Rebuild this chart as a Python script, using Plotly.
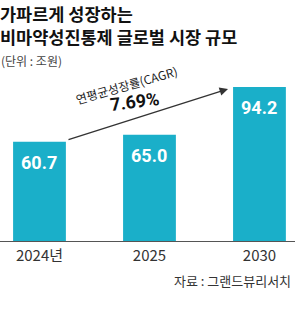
import plotly.graph_objects as go

categories = ["2024년", "2025", "2030"]
values = [60.7, 65.0, 94.2]
value_labels = ["60.7", "65.0", "94.2"]
title_lines = ["가파르게 성장하는", "비마약성진통제 글로벌 시장 규모"]
unit_text = "(단위 : 조원)"
cagr_label = "연평균성장률(CAGR)"
cagr_value = "7.69%"
source_text = "자료 : 그랜드뷰리서치"

BAR = "#1AAFC9"
FONT = "Noto Sans CJK KR"

fig = go.Figure()
fig.add_trace(go.Bar(
    x=categories, y=values, width=0.48,
    marker=dict(color=BAR, line=dict(width=0)),
    hoverinfo="skip",
))

anns = []
for i, (v, t) in enumerate(zip(values, value_labels)):
    anns.append(dict(x=i, y=v, xref="x", yref="y", text=f"<b>{t}</b>",
                     showarrow=False, yanchor="top", yshift=-8,
                     font=dict(family="Roboto", size=18, color="white")))

# title (two lines in one block)
anns.append(dict(x=0.0, y=1.0, xref="paper", yref="paper", xanchor="left", yanchor="top",
                 align="left", text="<br>".join(f"<b>{l}</b>" for l in title_lines),
                 showarrow=False, borderpad=0,
                 font=dict(family=FONT, size=17.5, color="#111"), xshift=-1, yshift=60))
anns.append(dict(x=0.0, y=1.0, xref="paper", yref="paper", xanchor="left", yanchor="top",
                 text=unit_text, showarrow=False,
                 font=dict(family=FONT, size=12, color="#444"), xshift=-1, yshift=10))

# CAGR arrow
anns.append(dict(x=1.714, y=93.1, ax=0.25, ay=61.8, xref="x", yref="y", axref="x", ayref="y",
                 text="", showarrow=True, arrowhead=2, arrowsize=1.2, arrowwidth=1.4,
                 arrowcolor="#333"))
anns.append(dict(x=0.795, y=95.5, xref="x", yref="y", text=cagr_label, showarrow=False,
                 textangle=-16, font=dict(family=FONT, size=12, color="#222")))
anns.append(dict(x=0.868, y=85.1, xref="x", yref="y", text=f"<b>{cagr_value}</b>", showarrow=False,
                 textangle=-7, font=dict(family="Roboto", size=18, color="#111")))

# source
anns.append(dict(x=1.0, y=0.0, xref="paper", yref="paper", xanchor="right", yanchor="middle",
                 text=source_text, showarrow=False, xshift=-2, yshift=-39,
                 font=dict(family=FONT, size=13, color="#333")))

fig.update_layout(
    width=300, height=318,
    margin=dict(l=0, r=5, t=60, b=77),
    paper_bgcolor="white", plot_bgcolor="white",
    showlegend=False,
    annotations=anns,
    xaxis=dict(type="category", range=[-0.359, 2.323], showgrid=False, zeroline=False,
               showline=True, linecolor="#555", linewidth=1,
               ticks="outside", ticklen=1, tickcolor="rgba(0,0,0,0)",
               tickfont=dict(family=FONT, size=15, color="#333")),
    yaxis=dict(range=[0, 110.8], visible=False),
)

fig.write_html("out.html")
